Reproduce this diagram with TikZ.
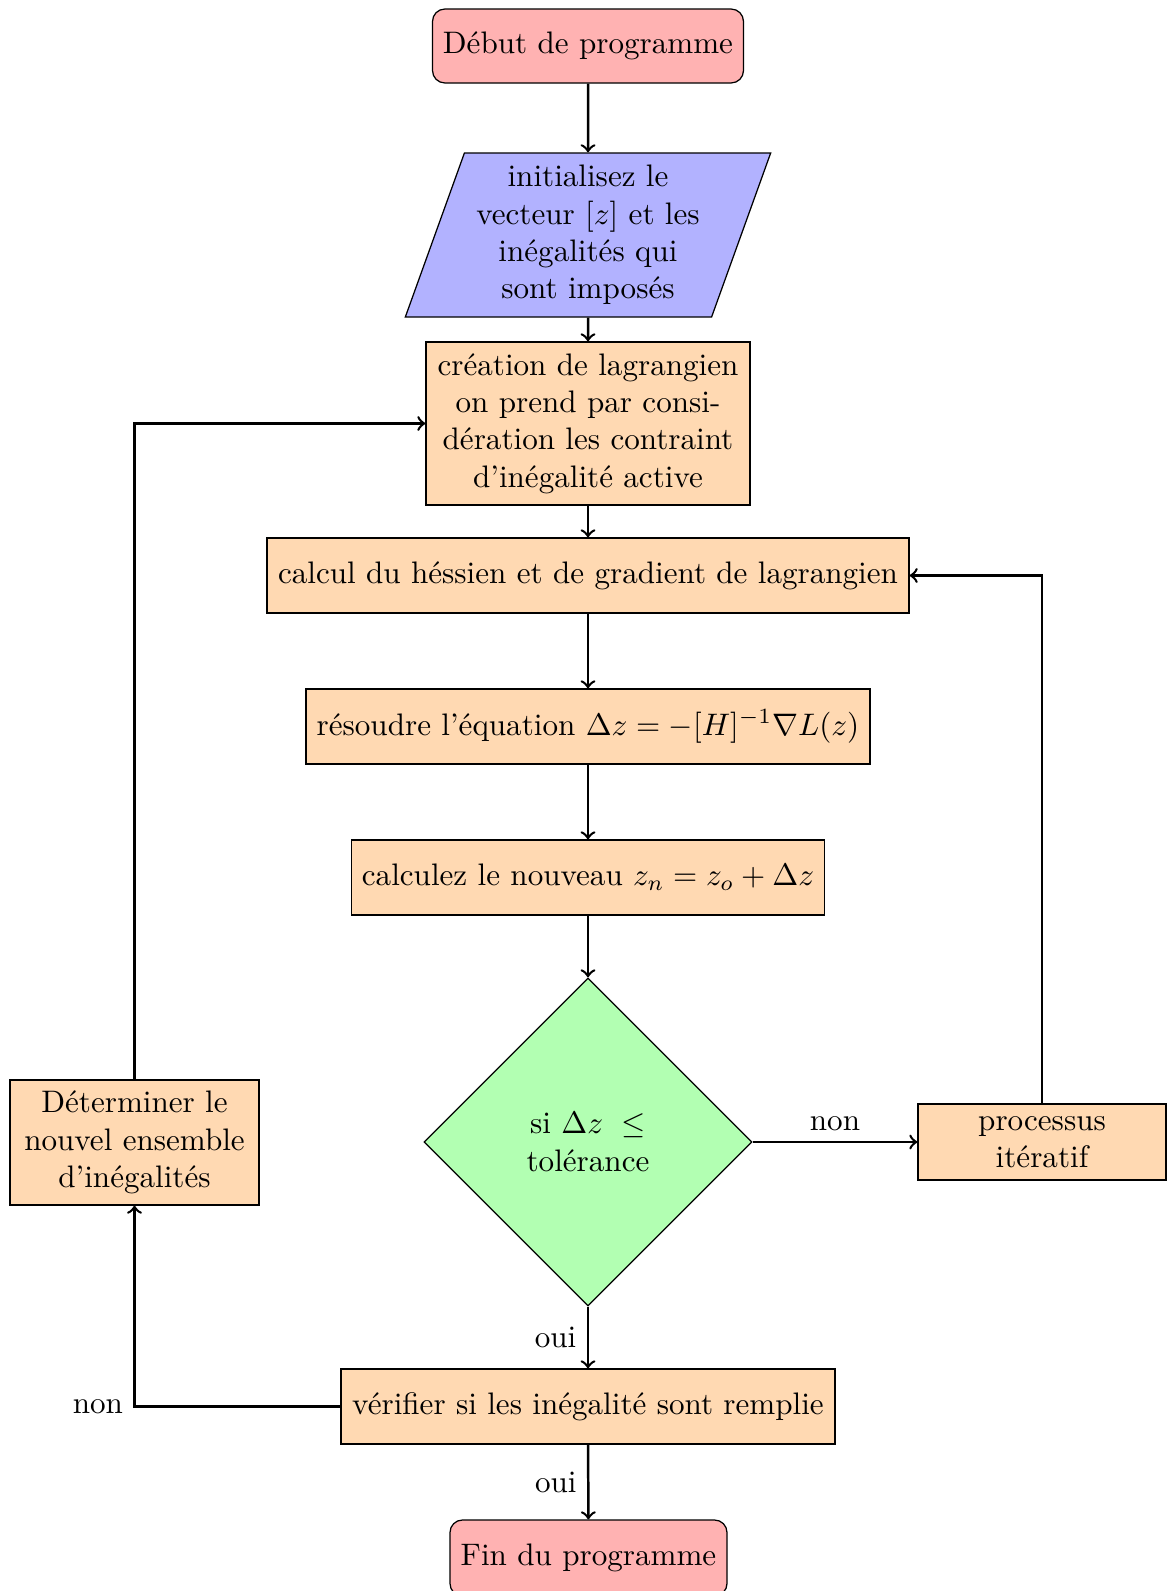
\documentclass[tikz,border=0pt]{standalone}
\usepackage{fontspec}
\usetikzlibrary{shapes.geometric}
\def\pxu{0.3215pt}
\begin{document}
\begin{tikzpicture}[x=\pxu, y=-\pxu,
  base/.style={draw, thin, align=center, inner sep=3.33pt},
  startstop/.style={base, rectangle, rounded corners=4pt, fill=red!30},
  iobox/.style={base, trapezium, trapezium left angle=70, trapezium right angle=110, trapezium stretches=true, fill=blue!30},
  procbox/.style={base, rectangle, fill=orange!30},
  decbox/.style={base, diamond, aspect=1, fill=green!30},
  arrowline/.style={thick, ->}]
\useasboundingbox (0,0) rectangle (1170,1591);
\node[startstop, minimum width=311*\pxu, minimum height=74*\pxu] (start) at (588,46) {Début de programme};
\node[iobox, minimum width=366*\pxu, minimum height=164*\pxu] (init) at (588,235) {initialisez le\\vecteur $[z]$ et les\\inégalités qui\\sont imposés};
\node[procbox, minimum width=324*\pxu, minimum height=163*\pxu] (crea) at (588,423.5) {création de lagrangien\\on prend par consi-\\dération les contraint\\d'inégalité active};
\node[procbox, minimum width=642*\pxu, minimum height=75*\pxu] (calc) at (588,575.5) {calcul du héssien et de gradient de lagrangien};
\node[procbox, minimum width=564*\pxu, minimum height=75*\pxu] (reso) at (588,726.5) {résoudre l'équation $\Delta z = -[H]^{-1}\nabla L(z)$};
\node[procbox, minimum width=472*\pxu, minimum height=75*\pxu] (nouv) at (588,877.5) {calculez le nouveau $z_n = z_o + \Delta z$};
\node[decbox, minimum width=328*\pxu, minimum height=328*\pxu] (dec) at (588,1142) {si $\Delta z$\hspace{6pt}$\leq$\\tolérance};
\node[procbox, inner ysep=1pt, minimum width=248*\pxu, minimum height=76*\pxu] (proc) at (1042,1142) {processus\\itératif};
\node[procbox, minimum width=249*\pxu, minimum height=125*\pxu] (det) at (134.5,1142.5) {Déterminer le\\nouvel ensemble\\d'inégalités};
\node[procbox, minimum width=494*\pxu, minimum height=75*\pxu] (verif) at (588,1406.5) {vérifier si les inégalité sont remplie};
\node[startstop, minimum width=277*\pxu, minimum height=76*\pxu] (fin) at (588.5,1558) {Fin du programme};

\draw[arrowline] (start) -- (init);
\draw[arrowline] (init) -- (crea);
\draw[arrowline] (crea) -- (calc);
\draw[arrowline] (calc) -- (reso);
\draw[arrowline] (reso) -- (nouv);
\draw[arrowline] (nouv) -- (dec);
\draw[arrowline] (dec) -- node[above] (lnon1) {non} (proc);
\draw[arrowline] (proc.north) |- (calc.east);
\draw[arrowline] (dec) -- node[left] (loui1) {oui} (verif);
\draw[arrowline] (verif) -- node[left] (loui2) {oui} (fin);
\draw[arrowline] (verif.west) -| node[pos=0.5, left] (lnon2) {non} (det.south);
\draw[arrowline] (det.north) |- (crea.west);
\end{tikzpicture}
\end{document}
